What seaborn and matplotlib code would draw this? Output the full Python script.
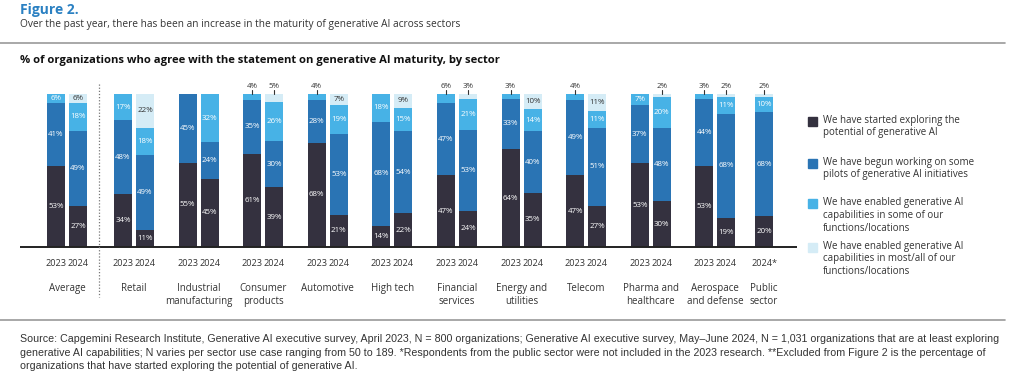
import numpy as np
import pandas as pd
import matplotlib
matplotlib.use("Agg")
import matplotlib.pyplot as plt
import seaborn as sns
from matplotlib.patches import Rectangle

# ---------------- data ----------------
sectors = ["Average", "Retail", "Industrial\nmanufacturing", "Consumer\nproducts",
           "Automotive", "High tech", "Financial\nservices", "Energy and\nutilities",
           "Telecom", "Pharma and\nhealthcare", "Aerospace\nand defense", "Public\nsector"]
bar_sector = [0, 0, 1, 1, 2, 2, 3, 3, 4, 4, 5, 5, 6, 6, 7, 7, 8, 8, 9, 9, 10, 10, 11]
bar_year = ["2023", "2024"] * 11 + ["2024*"]

exploring    = [53, 27, 34, 11, 55, 45, 61, 39, 68, 21, 14, 22, 47, 24, 64, 35, 47, 27, 53, 30, 53, 19, 20]
pilots       = [41, 49, 48, 49, 45, 24, 35, 30, 28, 53, 68, 54, 47, 53, 33, 40, 49, 51, 37, 48, 44, 68, 68]
enabled_some = [6, 18, 17, 18, 0, 32, 4, 26, 4, 19, 18, 15, 6, 21, 3, 14, 4, 11, 7, 20, 3, 11, 10]
enabled_most = [0, 6, 0, 22, 0, 0, 0, 5, 0, 7, 0, 9, 0, 3, 0, 10, 0, 11, 0, 2, 0, 2, 2]

series_names = ["We have started exploring the\npotential of generative AI",
                "We have begun working on some\npilots of generative AI initiatives",
                "We have enabled generative AI\ncapabilities in some of our\nfunctions/locations",
                "We have enabled generative AI\ncapabilities in most/all of our\nfunctions/locations"]
# labels drawn above the bar (small segments)
outside_extra = [12]  # Financial services 2023 (6%)

colors = ["#34313f", "#2a74b4", "#47b2e6", "#d5ecf6"]
label_colors = ["white", "white", "white", "#333333"]

# ---------------- figure ----------------
W, H = 1010, 379
fig = plt.figure(figsize=(W / 100, H / 100), dpi=100)
sns.set_style("white")
FONT = ["Open Sans", "DejaVu Sans"]
plt.rcParams["font.family"] = FONT

def fx(x):
    return x / W

def fy(y):
    return 1 - y / H

base_y, top_y = 247, 94
x0, x1 = 20, 797
ax = fig.add_axes([fx(x0), fy(base_y), (x1 - x0) / W, (base_y - top_y) / H])

# bar positions (pixel x = data x)
centers = [67] + [134 + 64.6 * i for i in range(10)] + [764]
pos = []
for i, s in enumerate(bar_sector):
    n = bar_sector.count(s)
    k = [j for j, t in enumerate(bar_sector) if t == s].index(i)
    off = 0 if n == 1 else (-11 if k == 0 else 11)
    pos.append(centers[s] + off)

vals = np.array([exploring, pilots, enabled_some, enabled_most], dtype=float)
vals = vals / vals.sum(axis=0) * 100
cums = np.cumsum(vals, axis=0)

for layer in range(3, -1, -1):
    df = pd.DataFrame({"x": pos, "y": cums[layer]})
    sns.barplot(data=df, x="x", y="y", native_scale=True, orient="x", color=colors[layer],
                width=18 / 22, errorbar=None, linewidth=0, saturation=1, ax=ax)

ax.set_xlim(x0, x1)
ax.set_ylim(0, 100)
ax.axis("off")

def py(ypix):
    return (base_y - ypix) / (base_y - top_y) * 100

# segment labels
raw = np.array([exploring, pilots, enabled_some, enabled_most])
for b in range(len(pos)):
    for layer in range(4):
        v = raw[layer, b]
        if v == 0:
            continue
        bottom = cums[layer, b] - vals[layer, b]
        is_top = cums[layer, b] >= 99.9
        if is_top and (v <= 5 or b in outside_extra):
            ax.plot([pos[b], pos[b]], [100, py(90)], color="#333333", lw=0.8, clip_on=False)
            ax.text(pos[b], py(86.5), f"{int(v)}%", ha="center", va="center",
                    fontsize=5.7, color="#333333", clip_on=False)
        else:
            ax.text(pos[b], bottom + vals[layer, b] / 2, f"{int(v)}%", ha="center",
                    va="center", fontsize=5.7, color=label_colors[layer])

# baseline
ax.plot([x0, x1], [0, 0], color="#222222", lw=1.4, clip_on=False, solid_capstyle="butt")

# year tick labels and sector labels
for b in range(len(pos)):
    ax.text(pos[b], py(264), bar_year[b], ha="center", va="center", fontsize=6.6,
            color="#333333", clip_on=False)
for s, name in enumerate(sectors):
    ax.text(centers[s], py(283), name, ha="center", va="top", fontsize=7,
            color="#333333", linespacing=1.25, clip_on=False)

# dotted separator
ax.plot([99, 99], [py(84), py(297)], color="#777777", lw=0.9, ls=(0, (1, 1.5)), clip_on=False)

# titles
fig.text(fx(20), fy(10), "Figure 2.", fontsize=10, fontweight="bold", color="#2a80c2", va="center")
fig.text(fx(20), fy(24), "Over the past year, there has been an increase in the maturity of generative AI across sectors",
         fontsize=7.3, color="#333333", va="center")
fig.add_artist(plt.Line2D([0, fx(1005)], [fy(43), fy(43)], color="#9a9a9a", lw=1.2))
fig.text(fx(20), fy(61), "% of organizations who agree with the statement on generative AI maturity, by sector",
         fontsize=8.1, fontweight="bold", color="#111111", va="center")

# legend
leg_y = [121, 163, 203, 247]
for i, (name, yy) in enumerate(zip(series_names, leg_y)):
    fig.add_artist(Rectangle((fx(807.5), fy(yy + 4.5)), 9 / W, 9 / H, color=colors[i],
                             transform=fig.transFigure))
    fig.text(fx(823), fy(yy - 6.5), name, fontsize=7, color="#333333", va="top",
             linespacing=1.25)

# footer
fig.add_artist(plt.Line2D([0, fx(1005)], [fy(320), fy(320)], color="#9a9a9a", lw=1.2))
footer = ("Source: Capgemini Research Institute, Generative AI executive survey, April 2023, N = 800 organizations; "
          "Generative AI executive survey, May\u2013June 2024, N = 1,031 organizations that are at least exploring\n"
          "generative AI capabilities; N varies per sector use case ranging from 50 to 189. *Respondents from the "
          "public sector were not included in the 2023 research. **Excluded from Figure 2 is the percentage of\n"
          "organizations that have started exploring the potential of generative AI.")
ft = fig.text(fx(20), fy(334), footer, fontsize=7, color="#333333", va="top", linespacing=1.45,
              family=["Liberation Sans", "DejaVu Sans"])
renderer = fig.canvas.get_renderer()
wpx = ft.get_window_extent(renderer).width
ft.set_fontsize(7 * 962 / wpx)

fig.savefig("out.png", dpi=100)
